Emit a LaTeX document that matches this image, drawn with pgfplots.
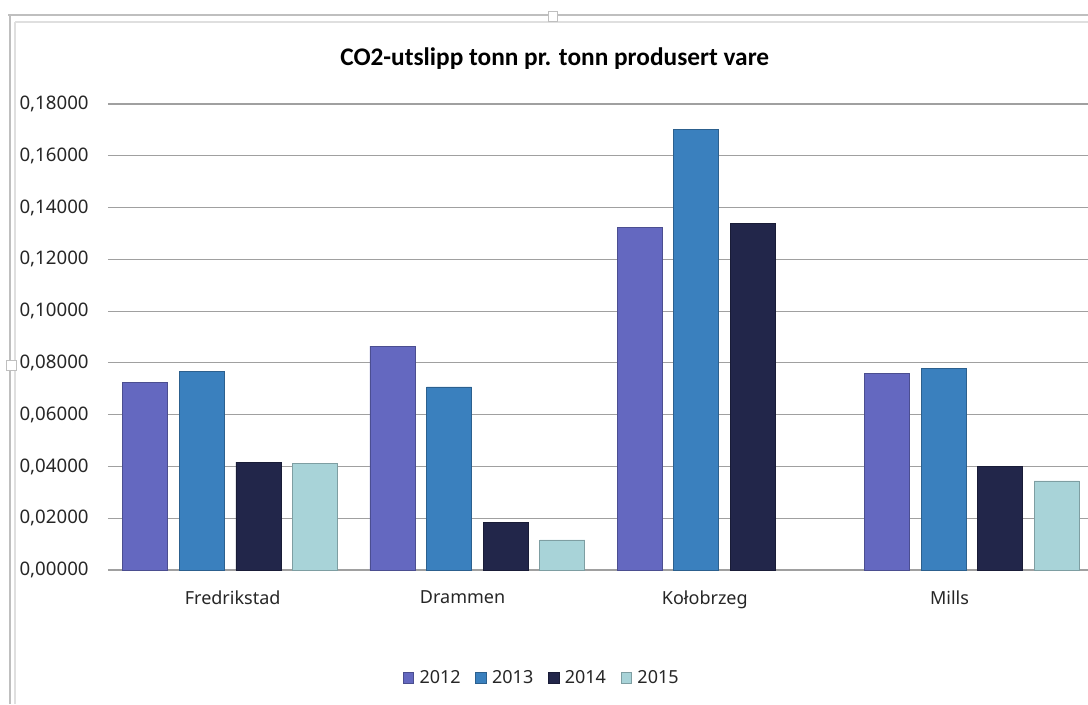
\documentclass[border=0pt]{standalone}
\usepackage{pgfplots}
\pgfplotsset{compat=1.18}
\usepackage{fontspec}
\setmainfont{Noto Sans}
\newfontfamily\titlefont{Carlito}
\definecolor{c12}{HTML}{6468C0}
\definecolor{c13}{HTML}{3A80BE}
\definecolor{c14}{HTML}{22264A}
\definecolor{c15}{HTML}{A8D3D8}
\definecolor{gridc}{HTML}{A0A0A0}
\begin{document}
\begin{tikzpicture}
\path[use as bounding box] (0,0) rectangle (816pt,528pt);
% chart object frame
\draw[gray!50, line width=0.8pt] (6pt,516.75pt) -- (816pt,516.75pt);
\draw[gray!25, line width=0.8pt] (11.25pt,511.5pt) -- (816pt,511.5pt);
\draw[gray!50, line width=0.8pt] (7.5pt,0) -- (7.5pt,516.75pt);
\draw[gray!25, line width=0.8pt] (11.25pt,0) -- (11.25pt,511.5pt);
\draw[gray!50, fill=white, line width=0.6pt] (411pt,512pt) rectangle (418pt,519.5pt);
\draw[gray!50, fill=white, line width=0.6pt] (5pt,250pt) rectangle (12pt,258pt);
\begin{axis}[
  at={(84.75pt,100.5pt)}, anchor=south west,
  width=731.25pt, height=349.5pt, scale only axis,
  xmin=-0.474, xmax=3.47, ymin=0, ymax=0.18,
  ytick={0,0.02,0.04,0.06,0.08,0.10,0.12,0.14,0.16,0.18},
  xtick={0.01,0.94,1.92,2.91},
  xticklabels={Fredrikstad,Drammen,Kołobrzeg,Mills},
  axis line style={draw=none},
  ymajorgrids, grid style={draw=gridc, line width=0.8pt},
  ytick pos=left, tick align=outside, major tick length=3.75pt,
  ytick style={draw=gridc, line width=0.8pt},
  xtick style={draw=none},
  yticklabel style={font=\fontsize{14}{16}\selectfont, text=black!85, xshift=-11pt},
  xticklabel style={font=\fontsize{13.5}{16}\selectfont, text=black!85, yshift=-8pt},
  /pgf/number format/.cd, fixed, fixed zerofill, precision=5, use comma, assume math mode=true,
  /pgfplots/.cd,
  title={CO2-utslipp tonn pr. tonn produsert vare},
  title style={at={(0.453,1.081)}, anchor=center, font=\titlefont\bfseries\fontsize{19}{22}\selectfont},
  legend style={at={(0.44,-0.232)}, anchor=center, draw=none, legend columns=4,
    font=\fontsize{13.5}{16}\selectfont, text=black!85,
    /tikz/every even column/.append style={column sep=9pt}},
  legend image code/.code={\draw[#1] (0pt,-4pt) rectangle (8pt,4pt);},
  legend cell align=left,
]
\addplot[ybar, bar width=0.182, bar shift=-0.3435, fill=c12, draw=c12!75!black, line width=0.6pt]
  coordinates {(0,0.0726) (1,0.0865) (2,0.1324) (3,0.0760)};
\addplot[ybar, bar width=0.182, bar shift=-0.1145, fill=c13, draw=c13!75!black, line width=0.6pt]
  coordinates {(0,0.0768) (1,0.0707) (2,0.1703) (3,0.0780)};
\addplot[ybar, bar width=0.182, bar shift=0.1145, fill=c14, draw=c14!75!black, line width=0.6pt]
  coordinates {(0,0.0417) (1,0.0185) (2,0.1340) (3,0.0400)};
\addplot[ybar, bar width=0.182, bar shift=0.3435, fill=c15, draw=c15!75!black, line width=0.6pt]
  coordinates {(0,0.0413) (1,0.0116) (3,0.0344)};
\legend{\hspace{2pt}2012,\hspace{2pt}2013,\hspace{2pt}2014,\hspace{2pt}2015}
\end{axis}
\end{tikzpicture}
\end{document}
